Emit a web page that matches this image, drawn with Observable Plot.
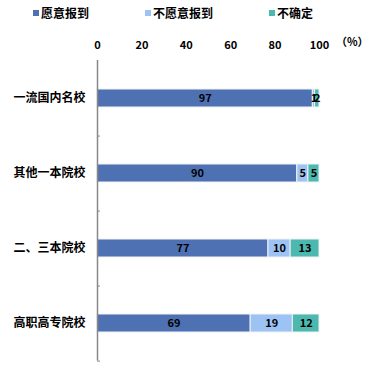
<!DOCTYPE html>
<html><head><meta charset="utf-8">
<script src="https://cdn.jsdelivr.net/npm/d3@7"></script>
<script src="https://cdn.jsdelivr.net/npm/@observablehq/plot@0.6"></script>
<style>
body{margin:0;background:#fff;font-family:"Noto Sans CJK SC",sans-serif;}
#wrap{position:relative;width:388px;height:368px;}
#legend{position:relative;height:26px;font-size:12px;font-weight:700;color:#000;}
#legend span.item{position:absolute;top:5px;line-height:16px;white-space:nowrap;}
#legend i{display:inline-block;width:6px;height:6px;margin-right:2px;vertical-align:2px;}
#unit{position:absolute;left:336px;top:33px;font-size:11px;font-weight:700;}
</style></head>
<body><div id="wrap"><div id="legend"></div><div id="chart"></div><span id="unit">（%）</span></div>
<script>
const categories = ["一流国内名校","其他一本院校","二、三本院校","高职高专院校"];
const series = ["愿意报到","不愿意报到","不确定"];
const willing = [97,90,77,69];
const notWilling = [1,5,10,19];
const unsure = [2,5,13,12];
const xTicks = [0,20,40,60,80,100];
const colors = ["#4E71B4","#9DC3F5","#4DB8AF"];

const seriesValues = [willing, notWilling, unsure];
const data = [];
categories.forEach((c,i)=>series.forEach((s,j)=>data.push({cat:c, series:s, value:seriesValues[j][i]})));

const legendX = [33,145,269];
const legend = document.getElementById("legend");
series.forEach((s,j)=>{
  const el = document.createElement("span");
  el.className="item"; el.style.left = legendX[j]+"px";
  el.innerHTML = `<i style="background:${colors[j]}"></i>${s}`;
  legend.appendChild(el);
});

const H = 342, mt = 34, mb = 7.5;
const halfStep = (H - mt - mb)/categories.length/2;
const font = {fontWeight:700, fill:"#000"};
const chart = Plot.plot({
  width:388, height:H,
  marginLeft:97, marginRight:69, marginTop:mt, marginBottom:mb,
  style:{fontFamily:"'Noto Sans CJK SC',sans-serif", background:"#fff"},
  x:{domain:[0,100]},
  y:{domain:categories, paddingInner:0.76, paddingOuter:0.38},
  color:{domain:series, range:colors},
  marks:[
    Plot.axisX({anchor:"top", ticks:xTicks, tickSize:0, tickPadding:12, fontSize:11, fontWeight:700, color:"#000", label:null}),
    Plot.axisY({anchor:"left", tickSize:0, tickPadding:12, fontSize:12, fontWeight:700, color:"#000", label:null}),
    Plot.axisY({anchor:"left", tickSize:-3, stroke:"#888", tickFormat:()=>"", dy:halfStep, label:null}),
    Plot.barX(data, Plot.stackX({x:"value", y:"cat", fill:"series", stroke:"#f2f2f2", strokeWidth:1})),
    Plot.textX(data, Plot.stackX({x:"value", y:"cat", text:"value", fontSize:11, ...font})),
    Plot.ruleX([0], {stroke:"#888", strokeWidth:1.5})
  ]
});
document.getElementById("chart").appendChild(chart);
</script></body></html>
